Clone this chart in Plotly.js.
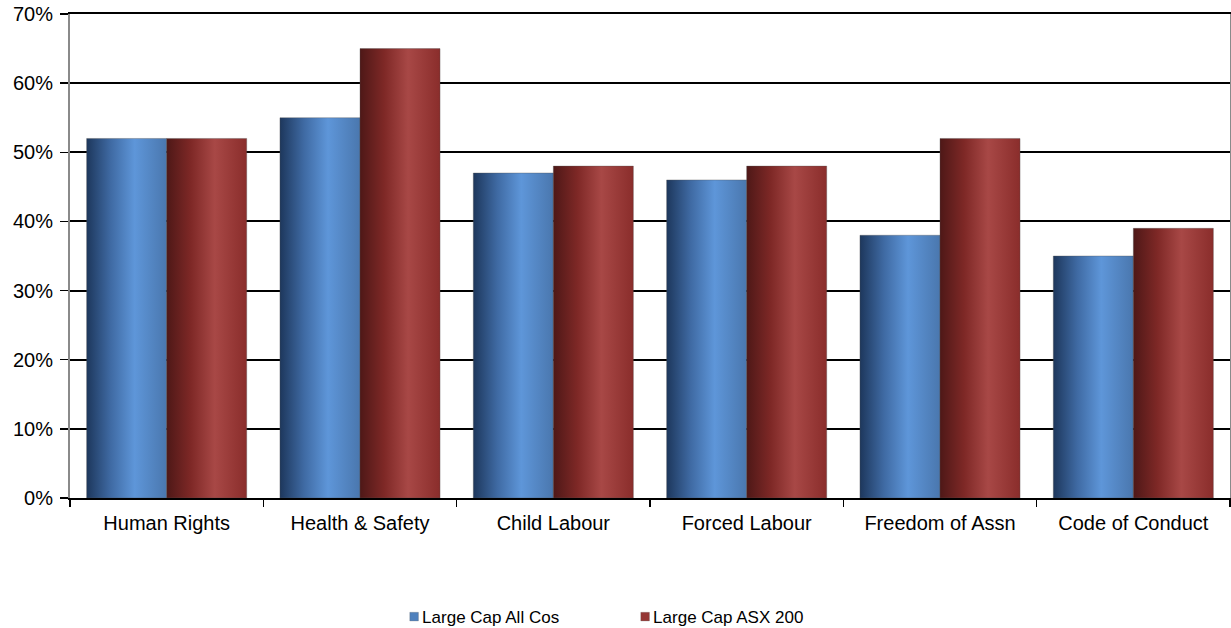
<!DOCTYPE html>
<html>
<head>
<meta charset="utf-8">
<script src="https://cdn.plot.ly/plotly-3.0.1.min.js"></script>
<style>
html,body{margin:0;padding:0;background:#fff;}
#chart{width:1231px;height:628px;}
</style>
</head>
<body>
<div id="chart"></div>
<script>
var categories = ["Human Rights", "Health & Safety", "Child Labour", "Forced Labour", "Freedom of Assn", "Code of Conduct"];
var allCos = [0.52, 0.55, 0.47, 0.46, 0.38, 0.35];
var asx200 = [0.52, 0.65, 0.48, 0.48, 0.52, 0.39];
var seriesNames = ["Large Cap All Cos", "Large Cap ASX 200"];
var yTicks = [0, 0.1, 0.2, 0.3, 0.4, 0.5, 0.6, 0.7];

var font = "Liberation Sans, Arial, sans-serif";

var traces = [
  {type: "bar", name: seriesNames[0], x: categories, y: allCos,
   marker: {color: "#4f81bd", line: {color: "rgba(80,80,80,0.35)", width: 1}}, hoverinfo: "none"},
  {type: "bar", name: seriesNames[1], x: categories, y: asx200,
   marker: {color: "#953735", line: {color: "rgba(80,80,80,0.35)", width: 1}}, hoverinfo: "none"}
];

var layout = {
  width: 1231, height: 628,
  margin: {l: 70, r: 1, t: 14, b: 130, autoexpand: false},
  paper_bgcolor: "#fff", plot_bgcolor: "#fff",
  barmode: "group", bargap: 0.172, bargroupgap: 0,
  showlegend: true,
  legend: {orientation: "h", x: 0.4682, xanchor: "center", y: -0.246, yanchor: "middle",
           font: {family: font, size: 17, color: "#000"}, entrywidth: 186, itemwidth: 30},
  xaxis: {type: "category", tickson: "boundaries", ticks: "outside", ticklen: 7, tickcolor: "#000", tickwidth: 1.5,
          showline: true, linecolor: "#000", linewidth: 2, mirror: true, showgrid: false,
          ticklabelstandoff: 6, automargin: false,
          tickfont: {family: font, size: 20, color: "#000"}, fixedrange: true},
  yaxis: {range: [0, 0.7], tickvals: yTicks, tickformat: ".0%", ticks: "outside", ticklen: 8, tickcolor: "#000", tickwidth: 1.5,
          showline: true, linecolor: "#8a8a8a", linewidth: 2, mirror: true,
          showgrid: true, gridcolor: "#000", gridwidth: 2, zeroline: false,
          ticklabelstandoff: 3, automargin: false,
          tickfont: {family: font, size: 20, color: "#000"}, fixedrange: true}
};

Plotly.newPlot("chart", traces, layout, {displayModeBar: false, staticPlot: true}).then(function(gd){
  var svgNS = "http://www.w3.org/2000/svg";
  var svg = gd.querySelector("svg.main-svg");
  var defs = svg.querySelector("defs") || svg.insertBefore(document.createElementNS(svgNS, "defs"), svg.firstChild);
  function grad(id, stops){
    var g = document.createElementNS(svgNS, "linearGradient");
    g.setAttribute("id", id);
    g.setAttribute("x1", "0"); g.setAttribute("y1", "0"); g.setAttribute("x2", "1"); g.setAttribute("y2", "0");
    stops.forEach(function(s){
      var st = document.createElementNS(svgNS, "stop");
      st.setAttribute("offset", s[0]); st.setAttribute("stop-color", s[1]);
      g.appendChild(st);
    });
    defs.appendChild(g);
  }
  grad("gBlue", [["0", "#1d375c"], ["0.3", "#3f6aa3"], ["0.6", "#5e96d9"], ["1", "#4a77ae"]]);
  grad("gRed", [["0", "#4e1817"], ["0.3", "#7e2826"], ["0.6", "#a84846"], ["1", "#8a2d2b"]]);
  var bars = gd.querySelectorAll(".barlayer .trace.bars");
  ["gBlue", "gRed"].forEach(function(id, i){
    if (!bars[i]) return;
    bars[i].querySelectorAll("path").forEach(function(p){ p.style.fill = "url(#" + id + ")"; });
  });
  // tighten legend symbols next to their text, as in the reference
  gd.querySelectorAll(".legend .legendpoints path").forEach(function(p){
    p.setAttribute("transform", "translate(32,0) scale(0.72)");
  });
});
</script>
</body>
</html>
